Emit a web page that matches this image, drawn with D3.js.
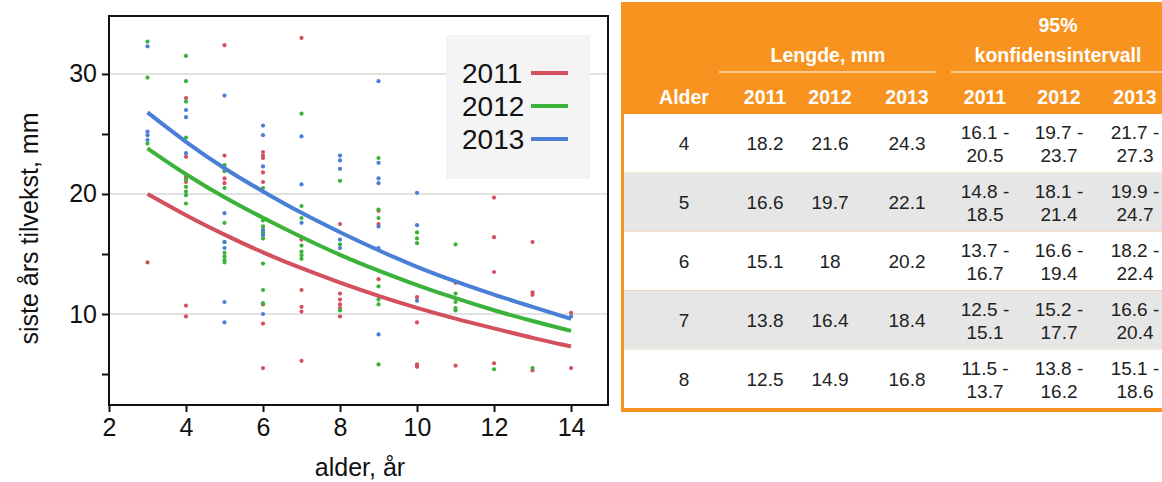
<!DOCTYPE html>
<html lang="no">
<head>
<meta charset="UTF-8">
<title>Tilvekst</title>
<script src="https://d3js.org/d3.v7.min.js"></script>
<style>
  body { margin: 0; background: #fff; font-family: "Liberation Sans", Arial, sans-serif; }
  svg { display: block; }
</style>
</head>
<body>
<svg id="chart" width="1162" height="482"></svg>
<script>
// ---- data ----
const years = ["2011", "2012", "2013"];
const colors = {"2011": "#d4505f", "2012": "#3bb33b", "2013": "#4a7fd6"};

// fitted curve, read at each age
const curveAges = [3, 4, 5, 6, 7, 8, 9, 10, 11, 12, 13, 14];
const curve2011 = [20.0, 18.2, 16.6, 15.1, 13.8, 12.6, 11.5, 10.5, 9.6, 8.8, 8.0, 7.3];
const curve2012 = [23.8, 21.6, 19.7, 18.0, 16.4, 14.9, 13.6, 12.4, 11.3, 10.3, 9.4, 8.6];
const curve2013 = [26.8, 24.3, 22.1, 20.2, 18.4, 16.8, 15.3, 13.9, 12.7, 11.6, 10.6, 9.6];

// observed points [age, value]
const pts2011 = [[3,14.3],[4,28],[4,23.1],[4,21.4],[4,21],[4,10.7],[4,9.8],[5,32.4],[5,23.2],[5,21.3],[5,20.9],
  [6,23.5],[6,23.2],[6,23],[6,21.8],[6,21],[6,17],[6,16.6],[6,10.8],[6,9.2],[6,5.5],[7,33],[7,16.2],[7,12],[7,10.6],[7,10.2],[7,6.1],
  [8,17.5],[8,11.7],[8,11.2],[8,10.8],[8,10.5],[8,9.8],[9,18.6],[9,17.5],[9,12.9],[10,11.4],[10,9.3],[10,5.6],[10,5.8],
  [11,12.6],[11,5.7],[12,19.7],[12,16.4],[12,13.5],[12,5.9],[13,16],[13,11.6],[13,11.8],[13,5.3],[14,10.1],[14,5.5]];
const pts2012 = [[3,32.7],[3,29.7],[3,24.2],[4,31.5],[4,29.4],[4,27.7],[4,24.7],[4,21.2],[4,20.6],[4,20.2],[4,19.9],[4,19.2],
  [5,22.4],[5,21.9],[5,20.5],[5,17.6],[5,16],[5,15.1],[5,14.8],[5,14.5],[5,14.3],[6,20.5],[6,17.8],[6,17.3],[6,16.8],[6,16.3],[6,14.2],[6,12],[6,10.9],
  [7,26.7],[7,19],[7,18],[7,15.7],[7,15.2],[7,14.9],[7,14.6],[8,21.1],[8,15.8],[8,10.3],[9,23],[9,18.7],[9,18],[9,12.3],[9,11.2],[9,10.8],[9,5.8],
  [10,16.8],[10,16.3],[10,15.9],[11,15.8],[11,11.7],[11,11],[11,10.5],[11,10.3],[12,5.4],[13,5.5]];
const pts2013 = [[3,32.3],[3,25.2],[3,24.9],[3,24.5],[4,27],[4,26.4],[4,23.4],[5,28.2],[5,18.4],[5,16],[5,15.5],[5,11],[5,9.3],
  [6,25.7],[6,24.9],[6,22.3],[6,17],[6,16.6],[6,10],[7,24.8],[7,20.8],[7,17.6],[8,23.2],[8,22.8],[8,22.1],[8,16.2],[8,15.5],
  [9,29.4],[9,22.6],[9,21.3],[9,20.9],[9,17.3],[9,15.5],[9,8.3],[10,20.1],[10,17.4],[10,11.1],[14,9.8]];

const xTicks = [2, 4, 6, 8, 10, 12, 14];
const yTicks = [5, 10, 15, 20, 25, 30];
const yLabels = [10, 20, 30];

// table
const tableAges = [4, 5, 6, 7, 8];
const len2011 = ["18.2", "16.6", "15.1", "13.8", "12.5"];
const len2012 = ["21.6", "19.7", "18", "16.4", "14.9"];
const len2013 = ["24.3", "22.1", "20.2", "18.4", "16.8"];
const ci2011 = [["16.1 -", "20.5"], ["14.8 -", "18.5"], ["13.7 -", "16.7"], ["12.5 -", "15.1"], ["11.5 -", "13.7"]];
const ci2012 = [["19.7 -", "23.7"], ["18.1 -", "21.4"], ["16.6 -", "19.4"], ["15.2 -", "17.7"], ["13.8 -", "16.2"]];
const ci2013 = [["21.7 -", "27.3"], ["19.9 -", "24.7"], ["18.2 -", "22.4"], ["16.6 -", "20.4"], ["15.1 -", "18.6"]];

// ---- chart ----
const svg = d3.select("#chart");
const m = {left: 109, top: 16, right: 608, bottom: 405};
const x = d3.scaleLinear().domain([2, 14.96]).range([m.left, m.right]);
const y = d3.scaleLinear().domain([2.42, 34.83]).range([m.bottom, m.top]);

// gridlines
svg.append("g").selectAll("line").data(yLabels).join("line")
  .attr("x1", m.left).attr("x2", m.right)
  .attr("y1", d => y(d)).attr("y2", d => y(d))
  .attr("stroke", "#d8d8d8").attr("stroke-width", 1.5);

// points
const allPts = [[pts2011, "2011"], [pts2012, "2012"], [pts2013, "2013"]];
allPts.forEach(([pts, yr]) => {
  svg.append("g").selectAll("circle").data(pts).join("circle")
    .attr("cx", d => x(d[0])).attr("cy", d => y(d[1])).attr("r", 2.1)
    .attr("fill", colors[yr]);
});

// curves
const line = d3.line().x(d => x(d[0])).y(d => y(d[1])).curve(d3.curveBasis);
[curve2011, curve2012, curve2013].forEach((c, i) => {
  svg.append("path").datum(curveAges.map((a, j) => [a, c[j]]))
    .attr("d", line).attr("fill", "none")
    .attr("stroke", colors[years[i]]).attr("stroke-width", 4);
});

// frame
svg.append("rect").attr("x", m.left).attr("y", m.top)
  .attr("width", m.right - m.left).attr("height", m.bottom - m.top)
  .attr("fill", "none").attr("stroke", "#111").attr("stroke-width", 2);

// axes
const xAxis = svg.append("g").attr("transform", `translate(0,${m.bottom})`)
  .call(d3.axisBottom(x).tickValues(xTicks).tickSize(7).tickSizeOuter(0));
const yAxis = svg.append("g").attr("transform", `translate(${m.left},0)`)
  .call(d3.axisLeft(y).tickValues(yTicks).tickSize(7).tickSizeOuter(0)
    .tickFormat(d => yLabels.includes(d) ? d : ""));
[xAxis, yAxis].forEach(g => {
  g.select(".domain").remove();
  g.selectAll(".tick line").attr("stroke", "#111").attr("stroke-width", 2);
  g.selectAll(".tick text").attr("font-size", 25).attr("fill", "#111")
    .attr("font-family", "Liberation Sans, Arial, sans-serif");
});
xAxis.selectAll(".tick text").attr("dy", "0.85em");
yAxis.selectAll(".tick text").attr("x", -12);

svg.append("text").attr("x", 360).attr("y", 476)
  .attr("text-anchor", "middle").attr("font-size", 25).attr("fill", "#111").text("alder, år");
svg.append("text").attr("transform", `translate(38,${(m.top + m.bottom) / 2 + 18}) rotate(-90)`)
  .attr("text-anchor", "middle").attr("font-size", 25).attr("fill", "#111").text("siste års tilvekst, mm");

// legend
const lg = svg.append("g");
lg.append("rect").attr("x", 446).attr("y", 35).attr("width", 144).attr("height", 144).attr("fill", "#f4f4f4");
years.forEach((yr, i) => {
  const ly = 73 + i * 33;
  lg.append("text").attr("x", 462).attr("y", ly + 10).attr("font-size", 28).attr("fill", "#111").text(yr);
  lg.append("line").attr("x1", 531).attr("x2", 568).attr("y1", ly).attr("y2", ly)
    .attr("stroke", colors[yr]).attr("stroke-width", 4);
});

// ---- table ----
const orange = "#f7931e";
const t = svg.append("g");
const tLeft = 621, tTop = 2, headBottom = 114, rowH = 58.8;
const colX = [684, 765, 830, 907, 985, 1059, 1135];
t.append("rect").attr("x", tLeft).attr("y", tTop).attr("width", 600).attr("height", 410).attr("fill", orange);
tableAges.forEach((a, i) => {
  t.append("rect").attr("x", tLeft + 3).attr("y", headBottom + i * rowH)
    .attr("width", 600).attr("height", rowH)
    .attr("fill", i % 2 ? "#e6e6e6" : "#fff");
});
const head = (txt, cx, cy) => t.append("text").attr("x", cx).attr("y", cy)
  .attr("text-anchor", "middle").attr("font-size", 19.5).attr("font-weight", "bold")
  .attr("fill", "#fff").text(txt);
head("95%", 1058, 32);
head("Lengde, mm", 828, 62);
head("konfidensintervall", 1058, 62);
t.append("line").attr("x1", 719).attr("x2", 936).attr("y1", 72).attr("y2", 72).attr("stroke", "#fff").attr("stroke-width", 1.2);
t.append("line").attr("x1", 951).attr("x2", 1170).attr("y1", 72).attr("y2", 72).attr("stroke", "#fff").attr("stroke-width", 1.2);
head("Alder", colX[0], 104);
years.concat(years).forEach((yr, i) => head(yr, colX[i + 1], 104));

const cell = (txt, cx, cy) => t.append("text").attr("x", cx).attr("y", cy)
  .attr("text-anchor", "middle").attr("font-size", 19).attr("fill", "#222").text(txt);
tableAges.forEach((a, i) => {
  const cy = headBottom + i * rowH + rowH / 2 + 7;
  cell(a, colX[0], cy);
  cell(len2011[i], colX[1], cy);
  cell(len2012[i], colX[2], cy);
  cell(len2013[i], colX[3], cy);
  [ci2011, ci2012, ci2013].forEach((ci, k) => {
    cell(ci[i][0], colX[4 + k], cy - 11);
    cell(ci[i][1], colX[4 + k], cy + 12);
  });
});
</script>
</body>
</html>
